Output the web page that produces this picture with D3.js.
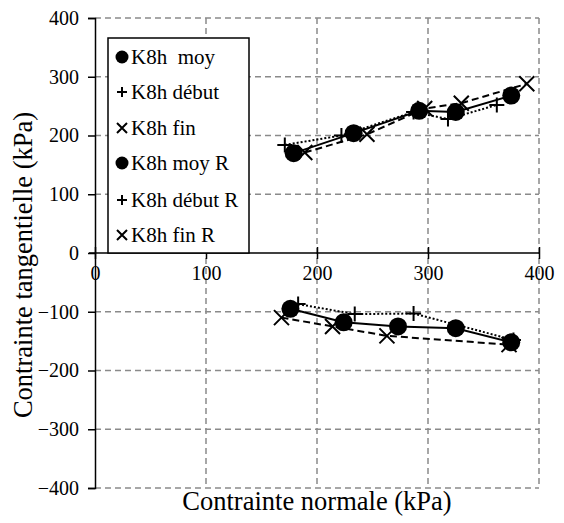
<!DOCTYPE html>
<html><head><meta charset="utf-8">
<script src="https://cdn.jsdelivr.net/npm/d3@7"></script>
<style>
body{margin:0;background:#fff;}
svg{display:block;}
svg text{font-family:"Liberation Serif","Times New Roman","DejaVu Serif",serif !important;}
</style></head>
<body><svg id="chart" width="564" height="523"></svg>
<script>
// ----- data -----
const xTicks = [0, 100, 200, 300, 400];
const yTicks = [-400, -300, -200, -100, 0, 100, 200, 300, 400];
const seriesNames = ["K8h  moy", "K8h début", "K8h fin", "K8h moy R", "K8h début R", "K8h fin R"];
const moy      = [[179,170],[233,204],[292,242],[325,240],[375,268]];
const debut    = [[171,184],[222,200],[287,240],[318,228],[362,252]];
const fin      = [[189,171],[245,202],[297,246],[330,255],[389,288]];
const moyR     = [[176,-95],[224,-118],[273,-125],[325,-128],[375,-152]];
const debutR   = [[183,-87],[234,-104],[287,-103],[377,-148]];
const finR     = [[168,-110],[214,-125],[263,-141],[373,-156]];

const series = [
  {name: seriesNames[0], data: moy,    marker: "circle", dash: null},
  {name: seriesNames[1], data: debut,  marker: "plus",   dash: "2,2"},
  {name: seriesNames[2], data: fin,    marker: "cross",  dash: "7,4"},
  {name: seriesNames[3], data: moyR,   marker: "circle", dash: null},
  {name: seriesNames[4], data: debutR, marker: "plus",   dash: "2,2"},
  {name: seriesNames[5], data: finR,   marker: "cross",  dash: "7,4"}
];

const svg = d3.select("#chart");
const x = d3.scaleLinear().domain([0, 400]).range([95, 539]);
const y = d3.scaleLinear().domain([-400, 400]).range([488, 18]);
const gridColor = "#8a8a8a";

// grid lines
const grid = svg.append("g");
grid.selectAll("line.v").data(xTicks.filter(d => d !== 0)).enter().append("line")
  .attr("x1", d => x(d)).attr("x2", d => x(d)).attr("y1", y(400)).attr("y2", y(-400))
  .attr("stroke", gridColor).attr("stroke-width", 1.5).attr("stroke-dasharray", "6,4");
grid.selectAll("line.h").data(yTicks.filter(d => d !== 0)).enter().append("line")
  .attr("x1", x(0)).attr("x2", x(400)).attr("y1", d => y(d)).attr("y2", d => y(d))
  .attr("stroke", gridColor).attr("stroke-width", 1.5).attr("stroke-dasharray", "6,4");

// Y axis
const yAxis = svg.append("g").attr("transform", `translate(${x(0)},0)`)
  .call(d3.axisLeft(y).tickValues(yTicks).tickSize(7).tickPadding(9).tickFormat(d3.format("d")));
yAxis.attr("font-family", null);
yAxis.select(".domain").attr("stroke", "#000").attr("stroke-width", 1.5);
yAxis.selectAll(".tick line").attr("stroke", "#000").attr("stroke-width", 1.5);
yAxis.selectAll(".tick text").attr("font-size", 20).attr("fill", "#000");

// X axis at y=0
const xAxis = svg.append("g").attr("transform", `translate(0,${y(0)})`)
  .call(d3.axisBottom(x).tickValues(xTicks).tickSize(6).tickPadding(7).tickFormat(d3.format("d")));
xAxis.attr("font-family", null);
xAxis.select(".domain").remove();
xAxis.append("line").attr("x1", x(0) - 6).attr("x2", x(400)).attr("y1", 0).attr("y2", 0)
  .attr("stroke", "#000").attr("stroke-width", 1.5);
xAxis.selectAll(".tick line").attr("y1", -6).attr("stroke", "#000").attr("stroke-width", 1.5);
xAxis.selectAll(".tick text").attr("font-size", 20).attr("fill", "#000");

// axis titles
svg.append("text").attr("x", (x(0) + x(400)) / 2).attr("y", 510).attr("text-anchor", "middle")
  .attr("font-size", 26.5).text("Contrainte normale (kPa)");
svg.append("text").attr("transform", `translate(32,${y(0) + 12}) rotate(-90)`).attr("text-anchor", "middle")
  .attr("font-size", 26.5).text("Contrainte tangentielle (kPa)");

// markers
function drawMarker(g, type, cx, cy, s) {
  if (type === "circle") {
    g.append("circle").attr("cx", cx).attr("cy", cy).attr("r", s).attr("fill", "#000");
  } else if (type === "plus") {
    g.append("path").attr("d", `M${cx - s},${cy}H${cx + s}M${cx},${cy - s}V${cy + s}`)
      .attr("stroke", "#000").attr("stroke-width", 2).attr("fill", "none");
  } else {
    g.append("path").attr("d", `M${cx - s},${cy - s}L${cx + s},${cy + s}M${cx - s},${cy + s}L${cx + s},${cy - s}`)
      .attr("stroke", "#000").attr("stroke-width", 2).attr("fill", "none");
  }
}

const line = d3.line().x(d => x(d[0])).y(d => y(d[1]));
const plot = svg.append("g");
series.forEach(s => {
  plot.append("path").datum(s.data).attr("d", line).attr("fill", "none")
    .attr("stroke", "#000").attr("stroke-width", 2)
    .attr("stroke-dasharray", s.dash);
});
series.forEach(s => {
  const size = s.marker === "circle" ? 9 : 7.5;
  s.data.forEach(d => drawMarker(plot, s.marker, x(d[0]), y(d[1]), size));
});

// legend
const lg = svg.append("g");
lg.append("rect").attr("x", 108).attr("y", 38).attr("width", 141).attr("height", 215)
  .attr("fill", "#fff").attr("stroke", "#000").attr("stroke-width", 1.5);
const rowY = [57, 92, 128, 163, 200, 235];
series.forEach((s, i) => {
  const sz = s.marker === "circle" ? 6.5 : 5;
  drawMarker(lg, s.marker, 122, rowY[i], sz);
  lg.append("text").attr("x", 131).attr("y", rowY[i]).attr("dy", "0.35em")
    .attr("font-size", 21).style("white-space", "pre").text(s.name);
});
</script>
</body></html>
